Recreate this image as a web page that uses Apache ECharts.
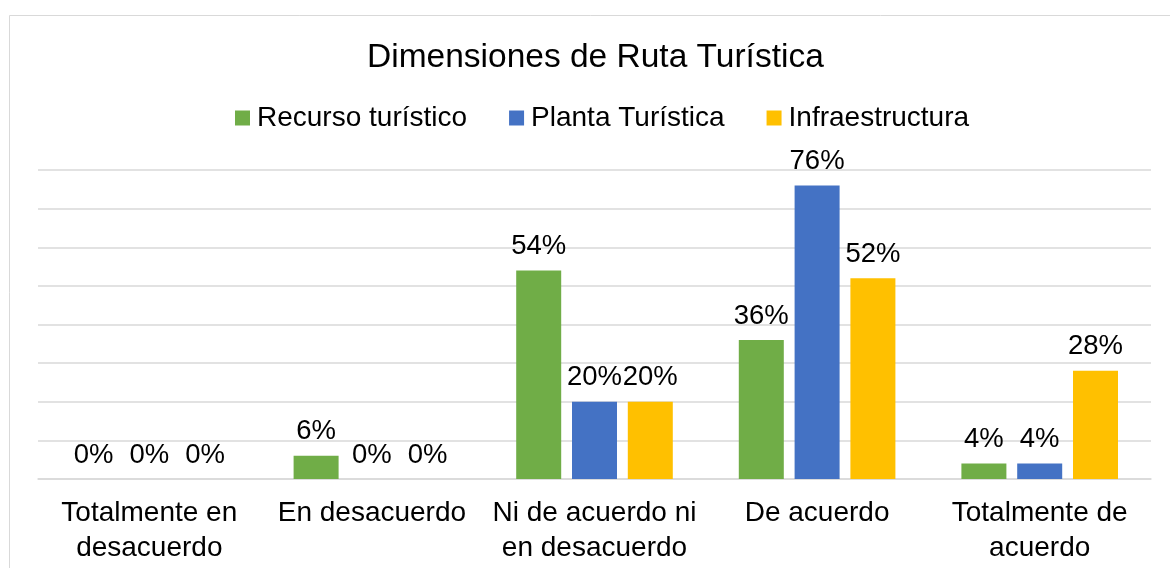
<!DOCTYPE html>
<html>
<head>
<meta charset="utf-8">
<script src="https://cdn.jsdelivr.net/npm/echarts@6/dist/echarts.min.js"></script>
<style>
html,body{margin:0;padding:0;background:#fff;}
#chart{width:1170px;height:568px;}
</style>
</head>
<body>
<div id="chart"></div>
<script>
const title = 'Dimensiones de Ruta Turística';
const categories = ['Totalmente en\ndesacuerdo', 'En desacuerdo', 'Ni de acuerdo ni\nen desacuerdo', 'De acuerdo', 'Totalmente de\nacuerdo'];
const seriesNames = ['Recurso turístico', 'Planta Turística', 'Infraestructura'];
const recurso = [0, 6, 54, 36, 4];
const planta = [0, 0, 20, 76, 4];
const infra = [0, 0, 20, 52, 28];
const colors = ['#70ad47', '#4472c4', '#ffc000'];

const FONT = '"Liberation Sans", Arial, sans-serif';
const chart = echarts.init(document.getElementById('chart'));
const values = [recurso, planta, infra];
chart.setOption({
  animation: false,
  backgroundColor: '#fff',
  graphic: [{
    type: 'rect', z: -10, silent: true,
    shape: {x: 9.5, y: 15.5, width: 1200, height: 600},
    style: {fill: 'none', stroke: '#d9d9d9', lineWidth: 1}
  }],
  title: {
    text: title, left: 367, top: 41, padding: 0,
    textStyle: {fontFamily: FONT, fontSize: 33.5, fontWeight: 'normal', color: '#000'}
  },
  legend: {
    top: 99, left: 230, itemWidth: 15, itemHeight: 15, itemGap: 42,
    icon: 'rect',
    textStyle: {fontFamily: FONT, fontSize: 28, color: '#000', padding: [0, 0, 0, 2]},
    data: seriesNames
  },
  grid: {left: 38, right: 19, top: 170, bottom: 89, containLabel: false},
  xAxis: {
    type: 'category', data: categories,
    axisLine: {show: true, lineStyle: {color: '#d9d9d9', width: 1.5}},
    axisTick: {show: false},
    axisLabel: {fontFamily: FONT, fontSize: 28, color: '#000', lineHeight: 35, margin: 17, interval: 0}
  },
  yAxis: {
    type: 'value', min: 0, max: 80, interval: 10,
    axisLabel: {show: false}, axisLine: {show: false}, axisTick: {show: false},
    splitLine: {lineStyle: {color: '#d9d9d9', width: 1.5}}
  },
  series: seriesNames.map((n, i) => ({
    name: n, type: 'bar', data: values[i], barWidth: 45, barGap: '24%',
    itemStyle: {color: colors[i]},
    label: {show: true, position: 'top', distance: 10, formatter: '{c}%',
      fontFamily: FONT, fontSize: 27.5, color: '#000'}
  }))
});
</script>
</body>
</html>
